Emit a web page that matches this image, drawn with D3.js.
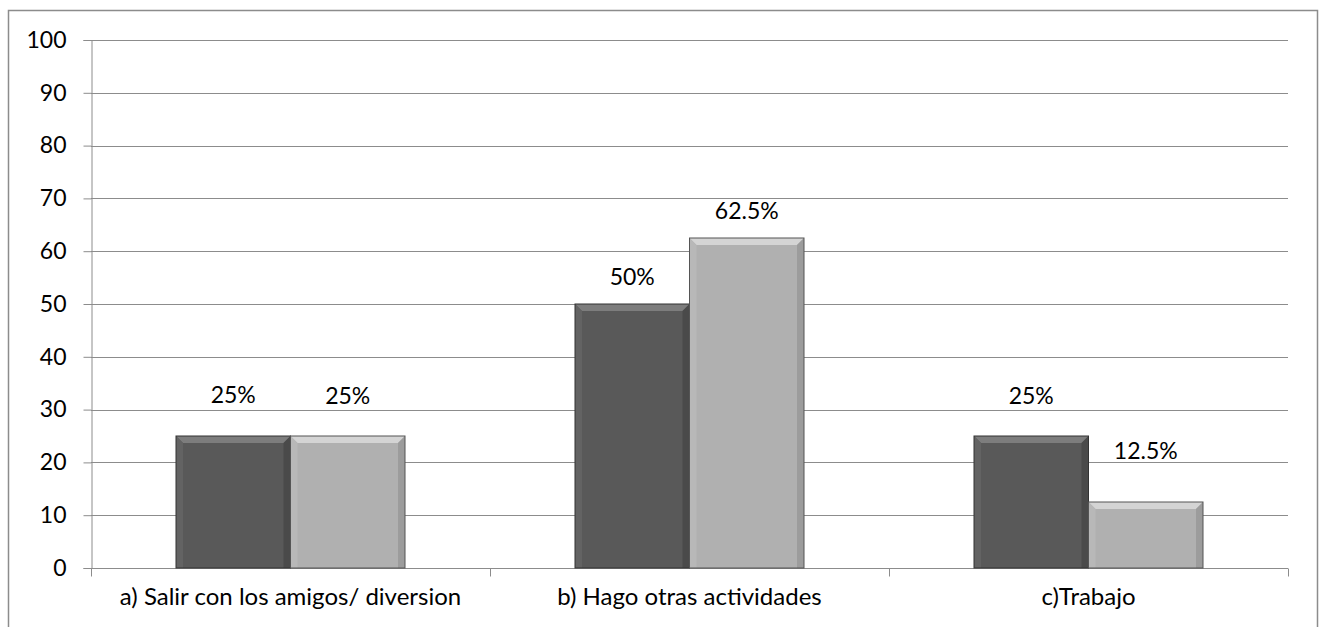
<!DOCTYPE html>
<meta charset="utf-8">
<style>
body { margin: 0; background: #fff; }
text { font-family: Lato, "Open Sans", sans-serif; fill: #000; }
</style>
<svg width="1324" height="627"></svg>
<script src="https://cdn.jsdelivr.net/npm/d3@7"></script>
<script>

var categories = ["a) Salir con los amigos/ diversion", "b) Hago otras actividades", "c)Trabajo"];
var seriesA = [25, 50, 25];
var seriesB = [25, 62.5, 12.5];
var labelsA = ["25%", "50%", "25%"];
var labelsB = ["25%", "62.5%", "12.5%"];
var yTicks = [0, 10, 20, 30, 40, 50, 60, 70, 80, 90, 100];
// how far above the bar top each label sits (px), as in the picture
var liftA = [41, 27, 40];
var liftB = [40, 27, 51];

var svg = d3.select("svg"),
    margin = {top: 40, right: 36, bottom: 59, left: 91},
    width = +svg.attr("width") - margin.left - margin.right,
    height = +svg.attr("height") - margin.top - margin.bottom;

// outer chart border (bottom runs off the page)
svg.append("path")
    .attr("d", "M8.5,640 V10.5 H1317.5 V640")
    .attr("fill", "none")
    .attr("stroke", "#8c8c8c")
    .attr("stroke-width", 1.5);

var g = svg.append("g")
    .attr("transform", "translate(" + margin.left + "," + margin.top + ")");

var x = d3.scaleBand().domain(categories).range([0, width]);
var x1 = d3.scaleBand().domain(["A", "B"]).range([0, 229])
var y = d3.scaleLinear().domain([0, 100]).range([height, 0]);
var groupOffset = (x.bandwidth() - 229) / 2;

// gridlines
g.append("g").selectAll("line")
  .data(yTicks.slice(1))
  .enter().append("line")
    .attr("x1", 0).attr("x2", width)
    .attr("y1", function(d) { return Math.round(y(d)) + 0.5; })
    .attr("y2", function(d) { return Math.round(y(d)) + 0.5; })
    .attr("stroke", "#8c8c8c");

var yAxis = g.append("g")
    .attr("transform", "translate(0.5,0)")
    .call(d3.axisLeft(y).tickValues(yTicks).tickSize(8).tickPadding(17));
yAxis.selectAll("line").attr("stroke", "#8c8c8c");
yAxis.select(".domain").attr("stroke", "#8c8c8c");
yAxis.selectAll("text").style("font-size", "23px").style("font-family", "Lato, sans-serif").attr("fill", "#000");

var xAxis = g.append("g")
    .attr("transform", "translate(0," + (height + 0.5) + ")")
    .call(d3.axisBottom(x).tickSize(0).tickPadding(19));
xAxis.select(".domain").remove();
xAxis.append("line").attr("x1", 0).attr("x2", width).attr("stroke", "#8c8c8c");
xAxis.selectAll(".sep")
  .data([0, 1, 2, 3])
  .enter().append("line")
    .attr("x1", function(i) { return i * x.step() + 0.5; })
    .attr("x2", function(i) { return i * x.step() + 0.5; })
    .attr("y1", 0).attr("y2", 8)
    .attr("stroke", "#8c8c8c");
xAxis.selectAll("text").style("font-size", "24px").style("font-family", "Lato, sans-serif").attr("fill", "#000");

function bevelBar(sel, x0, w, v, base, light, dark, top, side) {
  var y0 = y(v), h = height - y0, b = 7;
  var bar = sel.append("g");
  bar.append("rect").attr("x", x0).attr("y", y0).attr("width", w).attr("height", h).attr("fill", base);
  bar.append("polygon").attr("points", [[x0, y0], [x0 + w, y0], [x0 + w - b, y0 + b], [x0 + b, y0 + b]].join(" ")).attr("fill", top);
  bar.append("polygon").attr("points", [[x0, y0], [x0 + b, y0 + b], [x0 + b, y0 + h], [x0, y0 + h]].join(" ")).attr("fill", light);
  bar.append("polygon").attr("points", [[x0 + w, y0], [x0 + w - b, y0 + b], [x0 + w - b, y0 + h], [x0 + w, y0 + h]].join(" ")).attr("fill", side);
  bar.append("rect").attr("x", x0).attr("y", y0).attr("width", w).attr("height", h)
    .attr("fill", "none").attr("stroke", dark).attr("stroke-width", 1);
}

var bars = g.append("g");
categories.forEach(function(c, i) {
  var gx = x(c) + groupOffset;
  bevelBar(bars, gx + x1("A"), x1.bandwidth(), seriesA[i], "#595959", "#636363", "#333", "#7d7d7d", "#4a4a4a");
  bevelBar(bars, gx + x1("B"), x1.bandwidth(), seriesB[i], "#b0b0b0", "#b8b8b8", "#555", "#d4d4d4", "#9c9c9c");
  g.append("text")
    .attr("x", gx + x1("A") + x1.bandwidth() / 2)
    .attr("y", y(seriesA[i]) - liftA[i])
    .attr("dy", "0.35em")
    .attr("text-anchor", "middle")
    .style("font-size", "23px")
    .text(labelsA[i]);
  g.append("text")
    .attr("x", gx + x1("B") + x1.bandwidth() / 2)
    .attr("y", y(seriesB[i]) - liftB[i])
    .attr("dy", "0.35em")
    .attr("text-anchor", "middle")
    .style("font-size", "23px")
    .text(labelsB[i]);
});

</script>
